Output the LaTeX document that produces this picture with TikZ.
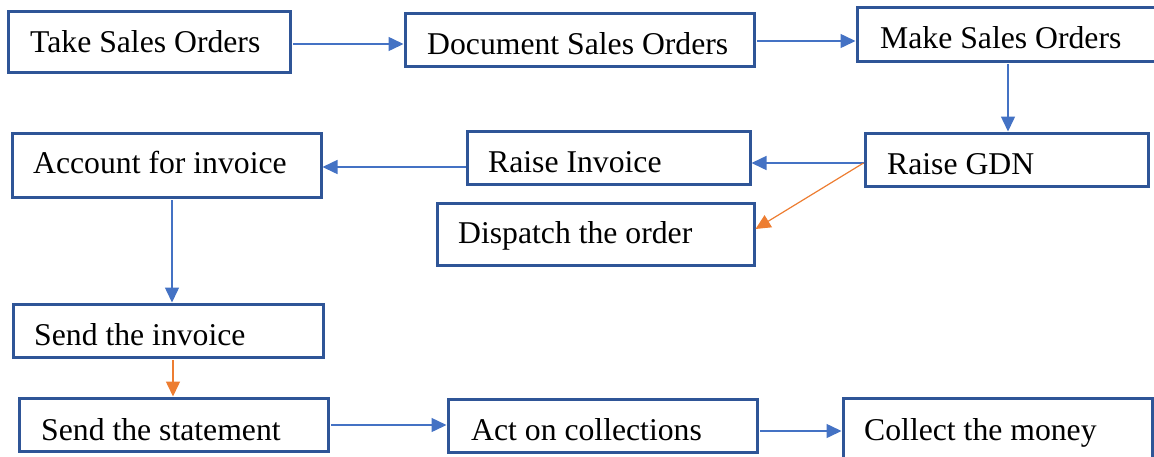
\documentclass[tikz,border=0pt]{standalone}
\usepackage{fontspec}
\setmainfont{Liberation Serif}
\usetikzlibrary{arrows.meta,calc,fit}
\definecolor{boxblue}{HTML}{2F5597}
\definecolor{lineblue}{HTML}{4472C4}
\definecolor{lineorange}{HTML}{ED7D31}
\tikzset{
  stepbox/.style={draw=boxblue, line width=3pt, inner sep=0pt, fill=none},
  lbl/.style={inner sep=0pt, anchor=base west, font=\fontsize{31.7pt}{36pt}\selectfont, text=black},
  conn/.style={draw=lineblue, line width=1.5pt, -{Triangle[length=15pt,width=14pt]}},
  connor/.style={conn, draw=lineorange}
}
\begin{document}
\begin{tikzpicture}[x=1pt,y=-1pt]
\useasboundingbox (0,0) rectangle (1154,456);
\clip (0,0) rectangle (1154,456);
% boxes
\node[stepbox, fit={(8,11) (290,72)}] (take) {};
\node[stepbox, fit={(405,13) (754,66)}] (doc) {};
\node[stepbox, fit={(857,7) (1165,61)}] (make) {};
\node[stepbox, fit={(865,133) (1148,186)}] (gdn) {};
\node[stepbox, fit={(467,131) (750,184)}] (inv) {};
\node[stepbox, fit={(437,203) (754,265)}] (disp) {};
\node[stepbox, fit={(12,133) (321,197)}] (acct) {};
\node[stepbox, fit={(13,304) (323,357)}] (sinv) {};
\node[stepbox, fit={(19,398) (328,451)}] (sstat) {};
\node[stepbox, fit={(448,399) (757,452)}] (act) {};
\node[stepbox, fit={(843,398) (1152,468)}] (coll) {};
% texts
\node[lbl] (takeT) at (30,52) {Take Sales Orders};
\node[lbl] (docT) at (427,54) {Document Sales Orders};
\node[lbl] (makeT) at (880,48) {Make Sales Orders};
\node[lbl] (gdnT) at (887,174) {Raise GDN};
\node[lbl] (invT) at (488,172) {Raise Invoice};
\node[lbl] (dispT) at (458,243) {Dispatch the order};
\node[lbl] (acctT) at (33,173) {Account for invoice};
\node[lbl] (sinvT) at (34,345) {Send the invoice};
\node[lbl] (sstatT) at (41,440) {Send the statement};
\node[lbl] (actT) at (471,440) {Act on collections};
\node[lbl] (collT) at (864,440) {Collect the money};
% connectors
\draw[conn] ($(take.east)+(1.5,2.5)$) -- ($(doc.west)+(0,4.5)$);
\draw[conn] ($(doc.east)+(1.5,1.5)$) -- ($(make.west)+(0,7)$);
\draw[conn] ($(make.south)+(-3,1.5)$) -- ($(gdn.north)+(1.5,0)$);
\draw[conn] ($(gdn.west)+(0,3.5)$) -- ($(inv.east)+(0,5.5)$);
\draw[connor, line width=1.2pt] ($(gdn.west)+(0,3.5)$) -- ($(disp.east)+(0,-5)$);
\draw[conn] ($(inv.west)+(0,9.5)$) -- ($(acct.east)+(0,2)$);
\draw[conn] ($(acct.south)+(5.5,1.5)$) -- ($(sinv.north)+(4,0)$);
\draw[connor] ($(sinv.south)+(5,1.5)$) -- ($(sstat.north)+(-0.5,0)$);
\draw[conn] ($(sstat.east)+(1.5,0.5)$) -- ($(act.west)+(0,-0.5)$);
\draw[conn] ($(act.east)+(1.5,5.5)$) -- ($(coll.west)+(0,-2)$);
\end{tikzpicture}
\end{document}
